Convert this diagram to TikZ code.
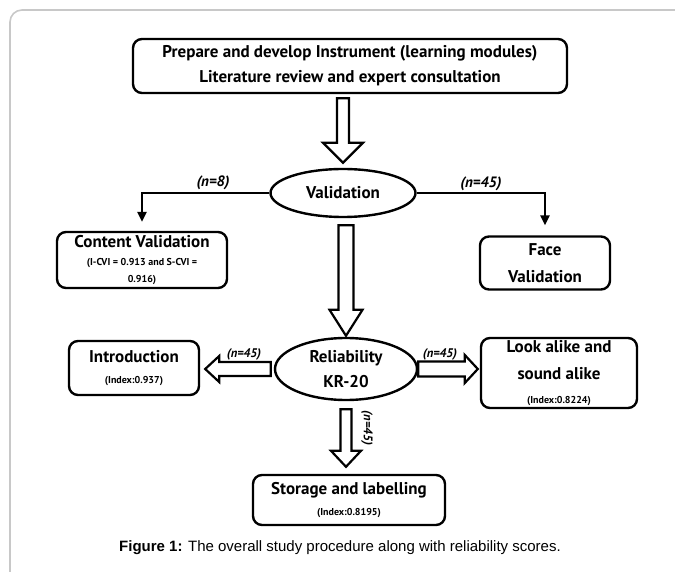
\documentclass[tikz,border=0pt]{standalone}
\usepackage{fontspec}
\setmainfont{PT Sans}
\newfontfamily\capfont{Liberation Sans}
\usetikzlibrary{shapes.geometric, arrows.meta, positioning, calc}
\usepackage{xcolor}
\definecolor{framegray}{RGB}{200,200,200}
\newcommand{\bigtxt}{\fontsize{17}{25}\selectfont}
\newcommand{\smalltxt}{\fontsize{10}{12}\selectfont}
\tikzset{
    box/.style={rectangle, rounded corners=9pt, draw, line width=2.4pt, align=center, inner sep=0pt, font=\bfseries\bigtxt},
    oval/.style={ellipse, draw, line width=2.4pt, align=center, inner sep=0pt, font=\bfseries\bigtxt},
    arrow/.style={line width=2.4pt, -{Triangle[length=10pt,width=9pt]}},
    count/.style={font=\fontsize{15}{15}\selectfont\bfseries\itshape, inner sep=0pt},
    countsm/.style={font=\fontsize{12.5}{12.5}\selectfont\bfseries\itshape, inner sep=0pt},
    hollow/.style n args={3}{draw, line width=2.2pt, fill=white, line join=miter, to path={
        let \p1=(\tikztostart), \p2=(\tikztotarget),
            \n1={atan2(\y2-\y1,\x2-\x1)}, \n2={veclen(\x2-\x1,\y2-\y1)} in
        ([shift={(\p1)}, rotate=\n1] 0pt,-#1) -- ([shift={(\p1)}, rotate=\n1] {\n2-#3},-#1)
        -- ([shift={(\p1)}, rotate=\n1] {\n2-#3},-#2) -- ([shift={(\p1)}, rotate=\n1] {\n2},0pt)
        -- ([shift={(\p1)}, rotate=\n1] {\n2-#3},#2) -- ([shift={(\p1)}, rotate=\n1] {\n2-#3},#1)
        -- ([shift={(\p1)}, rotate=\n1] 0pt,#1) -- cycle}}
}

\begin{document}
\begin{tikzpicture}[x=1pt, y=-1pt]
    \useasboundingbox (0,0) rectangle (675,572);
    % frame
    \draw [framegray, line width=1.6pt, rounded corners=12pt] (10,572) -- (10,10) -- (675,10);

    \node (top) [box, minimum width=434pt, minimum height=54pt] at (350,66) {Prepare and develop Instrument (learning modules)\\ Literature review and expert consultation};
    \node (valid) [oval, minimum width=145pt, minimum height=48pt] at (343,193) {Validation};
    \node (content) [box, minimum width=170pt, minimum height=56pt] at (142,260) {Content Validation\\[-7pt] \smalltxt (I-CVI = 0.913 and S-CVI =\\[-8pt] \smalltxt 0.916)};
    \node (face) [box, minimum width=130pt, minimum height=53pt] at (545,263) {Face\\[2pt] Validation};
    \node (rel) [oval, minimum width=142pt, minimum height=62pt] at (346,369) {Reliability\\ KR-20};
    \node (intro) [box, minimum width=130pt, minimum height=54pt] at (134,368) {Introduction\\[-4pt] \smalltxt (Index:0.937)};
    \node (look) [box, minimum width=156pt, minimum height=70pt] at (559,373) {Look alike and\\[2pt] sound alike\\[-1pt] \smalltxt (Index:0.8224)};
    \node (storage) [box, minimum width=192pt, minimum height=50pt] at (349,500) {Storage and labelling\\[-4pt] \smalltxt (Index:0.8195)};

    \draw [arrow] (valid.west) -| ([yshift=9pt]content.north);
    \draw [arrow] (valid.east) -| ([yshift=10pt]face.north);
    \draw [hollow={6pt}{20pt}{20pt}] ([yshift=-4pt]top.south -| valid.north) to ([yshift=5pt]valid.north);
    \draw [hollow={7.5pt}{16.5pt}{26pt}] ([yshift=-7pt]valid.south -| rel.north) to ([yshift=1pt]rel.north);
    \draw [hollow={5.5pt}{15pt}{16pt}] ([yshift=-8pt]rel.south) to ([yshift=7pt]storage.north -| rel.south);
    \draw [hollow={7pt}{13pt}{14pt}] ([xshift=-3pt]rel.west) to ([xshift=5pt]intro.east |- rel.west);
    \draw [hollow={7.5pt}{14pt}{13pt}] (rel.east) to ([xshift=-2pt]look.west |- rel.east);

    \node (n8) [count] at (213,183) {(n=8)};
    \node (n45a) [count] at (481,184) {(n=45)};
    \node (n45b) [countsm] at (244,354) {(n=45)};
    \node (n45c) [countsm] at (440,354) {(n=45)};
    \node (n45d) [countsm, rotate=-90] at (367,428) {(n=45)};

    \node (caption) at (340,548) {\capfont\fontsize{15}{15}\selectfont\textbf{Figure 1:} The overall study procedure along with reliability scores.};
\end{tikzpicture}
\end{document}
